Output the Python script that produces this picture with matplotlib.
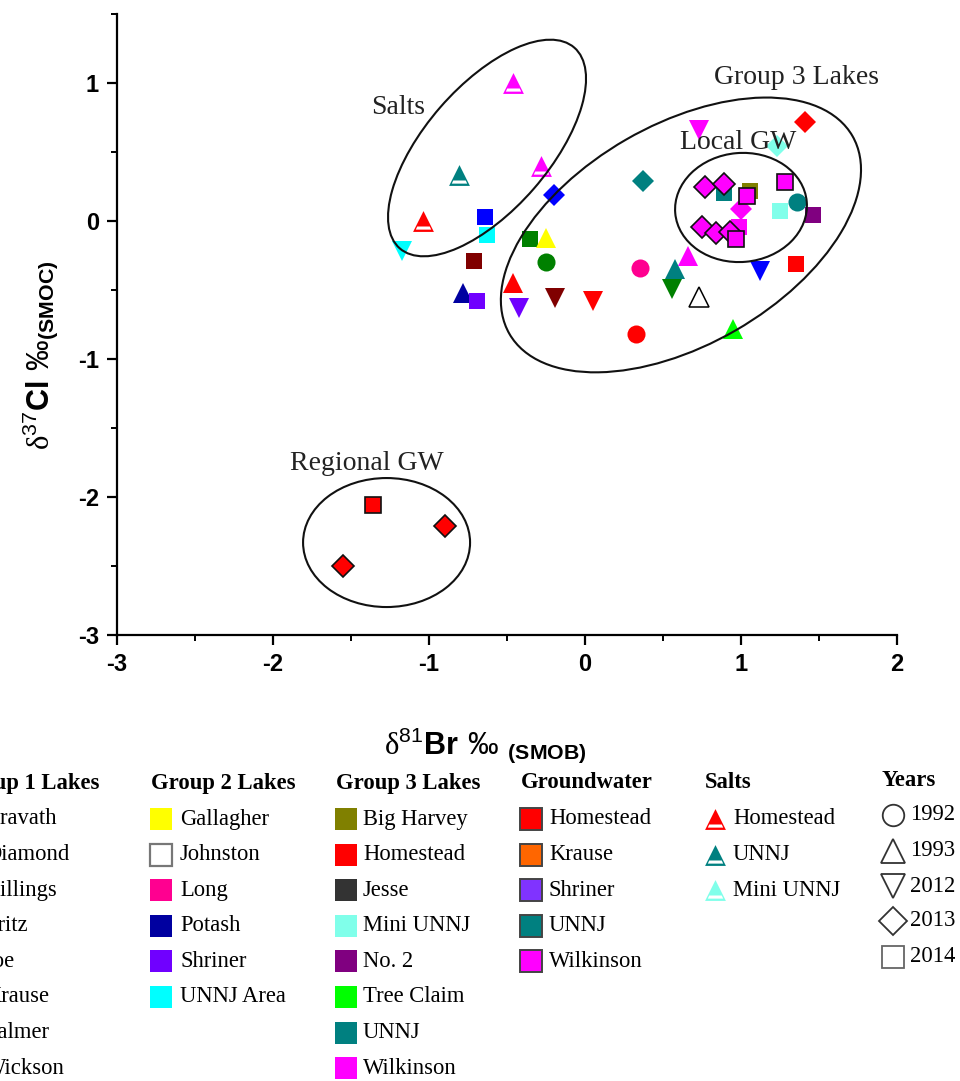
import numpy as np
import matplotlib
matplotlib.use('Agg')
import matplotlib.pyplot as plt
from matplotlib.patches import Ellipse
from matplotlib.path import Path
from matplotlib.transforms import Affine2D
from matplotlib.ticker import MultipleLocator

plt.rcParams['mathtext.fontset'] = 'custom'
plt.rcParams['mathtext.rm'] = 'Liberation Sans'
plt.rcParams['mathtext.bf'] = 'Liberation Sans:bold'
plt.rcParams['mathtext.cal'] = 'Liberation Serif'
plt.rcParams['axes.unicode_minus'] = False

# lake samples
lake_site = ['Cravath', 'Cravath', 'Cravath', 'Diamond', 'Diamond',
             'Billings', 'Billings', 'Billings', 'UNNJ Area', 'UNNJ Area',
             'Gallagher', 'Potash', 'Shriner', 'Shriner', 'Long', 'Johnston',
             'Homestead', 'Homestead', 'Homestead', 'Homestead', 'Homestead',
             'UNNJ', 'UNNJ', 'UNNJ', 'UNNJ',
             'Wilkinson', 'Wilkinson', 'Wilkinson', 'Wilkinson',
             'Tree Claim', 'Mini UNNJ', 'Mini UNNJ', 'No. 2', 'Big Harvey']
lake_year = [2014, 2013, 2012, 2014, 2012,
             2014, 1992, 2012, 2012, 2014,
             1993, 1993, 2014, 2012, 1992, 1993,
             1993, 2012, 1992, 2013, 2014,
             2013, 1993, 2014, 1992,
             2012, 1993, 2013, 2014,
             1993, 2013, 2014, 2014, 2014]
lake_x = [-0.64, -0.20, 1.12, -0.71, -0.19,
          -0.35, -0.25, 0.56, -1.17, -0.63,
          -0.25, -0.78, -0.69, -0.42, 0.35, 0.73,
          -0.46, 0.05, 0.33, 1.41, 1.35,
          0.37, 0.58, 0.89, 1.36,
          0.73, 0.66, 1.00, 0.99,
          0.95, 1.23, 1.25, 1.46, 1.06]
lake_y = [0.03, 0.19, -0.36, -0.29, -0.56,
          -0.13, -0.30, -0.49, -0.22, -0.10,
          -0.12, -0.52, -0.58, -0.63, -0.34, -0.55,
          -0.45, -0.58, -0.82, 0.72, -0.31,
          0.29, -0.35, 0.20, 0.14,
          0.66, -0.25, 0.085, -0.04,
          -0.78, 0.54, 0.075, 0.04, 0.22]

# groundwater samples
gw_site = ['Wilkinson'] * 8 + ['Homestead'] * 3
gw_year = [2013, 2013, 2013, 2013, 2013, 2014, 2014, 2014, 2014, 2013, 2013]
gw_x = [0.77, 0.89, 0.75, 0.84, 0.93, 1.04, 1.28, 0.97, -1.36, -0.90, -1.55]
gw_y = [0.25, 0.27, -0.04, -0.09, -0.08, 0.18, 0.285, -0.13, -2.06, -2.21, -2.50]

# salt samples (all 1993)
salt_site = ['Wilkinson', 'Wilkinson', 'UNNJ', 'Homestead']
salt_x = [-0.46, -0.28, -0.81, -1.04]
salt_y = [1.00, 0.40, 0.33, 0.00]

# legend groups
group1_names = ['Cravath', 'Diamond', 'Billings', 'Fritz', 'Joe', 'Krause', 'Palmer', 'Wickson']
group2_names = ['Gallagher', 'Johnston', 'Long', 'Potash', 'Shriner', 'UNNJ Area']
group3_names = ['Big Harvey', 'Homestead', 'Jesse', 'Mini UNNJ', 'No. 2', 'Tree Claim', 'UNNJ', 'Wilkinson']
gw_names = ['Homestead', 'Krause', 'Shriner', 'UNNJ', 'Wilkinson']
salt_names = ['Homestead', 'UNNJ', 'Mini UNNJ']
years = [1992, 1993, 2012, 2013, 2014]

lake_colors = {'Cravath': '#0000FF', 'Diamond': '#800000', 'Billings': '#008000',
               'Fritz': '#FF8000', 'Joe': '#808080', 'Krause': '#FF6600',
               'Palmer': '#00C0C0', 'Wickson': '#C000C0',
               'Gallagher': '#FFFF00', 'Johnston': '#FFFFFF', 'Long': '#FF0090',
               'Potash': '#0000A0', 'Shriner': '#7000FF', 'UNNJ Area': '#00FFFF',
               'Big Harvey': '#808000', 'Homestead': '#FF0000', 'Jesse': '#333333',
               'Mini UNNJ': '#80FFEA', 'No. 2': '#800080', 'Tree Claim': '#00FF00',
               'UNNJ': '#008080', 'Wilkinson': '#FF00FF'}
gw_colors = {'Homestead': '#FF0000', 'Krause': '#FF6600', 'Shriner': '#8033FF',
             'UNNJ': '#008080', 'Wilkinson': '#FF00FF'}
salt_colors = {'Homestead': '#FF0000', 'UNNJ': '#008080', 'Mini UNNJ': '#80FFEA',
               'Wilkinson': '#FF00FF'}

year_marker = {1992: 'o', 1993: '^', 2012: 'v', 2013: 'D', 2014: 's'}
year_ms = {1992: 13, 1993: 14.5, 2012: 14.5, 2013: 11.5, 2014: 12}

# triangle with a white band near the base (salts)
salt_marker = Path([(0, 1), (-1, -1), (1, -1), (0, 1),
                    (-0.6, -0.48), (0.6, -0.48), (0.74, -0.78), (-0.74, -0.78), (-0.6, -0.48)],
                   [Path.MOVETO, Path.LINETO, Path.LINETO, Path.CLOSEPOLY,
                    Path.MOVETO, Path.LINETO, Path.LINETO, Path.LINETO, Path.CLOSEPOLY])

fig = plt.figure(figsize=(9.6, 10.81), dpi=100)
ax = fig.add_axes([117 / 960, 446 / 1081, 780 / 960, 621 / 1081])

for x, y, s, yr in zip(lake_x, lake_y, lake_site, lake_year):
    ec = '#000000' if s == 'Johnston' else 'none'
    ax.plot(x, y, marker=year_marker[yr], ms=year_ms[yr], color=lake_colors[s],
            mec=ec, mew=1.1, ls='none', zorder=2)

for x, y, s, yr in zip(gw_x, gw_y, gw_site, gw_year):
    ax.plot(x, y, marker=year_marker[yr], ms=year_ms[yr], color=gw_colors[s],
            mec='#111111', mew=1.2, ls='none', zorder=2.2)

for x, y, s in zip(salt_x, salt_y, salt_site):
    ax.plot(x, y, marker=salt_marker, ms=15, color=salt_colors[s], mec='none',
            ls='none', zorder=2.4)

ax.set_xlim(-3, 2)
ax.set_ylim(-3, 1.5)
ax.xaxis.set_major_locator(MultipleLocator(1))
ax.xaxis.set_minor_locator(MultipleLocator(0.5))
ax.yaxis.set_major_locator(MultipleLocator(1))
ax.yaxis.set_minor_locator(MultipleLocator(0.5))
ax.set_yticks([-3, -2, -1, 0, 1])
for side in ['top', 'right']:
    ax.spines[side].set_visible(False)
for side in ['left', 'bottom']:
    ax.spines[side].set_linewidth(1.6)
ax.tick_params(which='major', direction='out', length=7, width=1.6, pad=6)
ax.tick_params(which='minor', direction='out', length=4.5, width=1.4)
for lab in ax.get_xticklabels() + ax.get_yticklabels():
    lab.set_fontfamily('Liberation Sans')
    lab.set_fontweight('bold')
    lab.set_fontsize(17)

# ellipses drawn in an isotropic frame (pixel-like scaling)
k = (621 / 4.5) / (780 / 5)
iso = Affine2D().scale(1, 1 / k) + ax.transData
px = 780 / 5
ellipses = [(-0.628, 0.529, 266, 124, 49),
            (0.615, -0.101, 396, 220, 30),
            (1.00, 0.098, 132, 109, 5),
            (-1.272, -2.33, 167, 129, 0)]
for cx, cy, w, h, ang in ellipses:
    ax.add_patch(Ellipse((cx, cy * k), w / px, h / px, angle=ang, transform=iso,
                         fill=False, ec='#111111', lw=1.5, zorder=3))

serif = 'Liberation Serif'
ax.text(-1.199, 0.826, 'Salts', fontsize=20, family=serif, ha='center', va='center', color='#222222')
ax.text(1.353, 1.043, 'Group 3 Lakes', fontsize=20, family=serif, ha='center', va='center', color='#222222')
ax.text(0.981, 0.572, 'Local GW', fontsize=20, family=serif, ha='center', va='center', color='#222222')
ax.text(-1.397, -1.754, 'Regional GW', fontsize=20, family=serif, ha='center', va='center', color='#222222')

fig.text(485 / 960, 1 - 745 / 1081,
         r'$\mathcal{δ}^{\mathrm{81}}\mathbf{Br}\ \mathrm{‰}\ _{\mathbf{(SMOB)}}$',
         fontsize=22, ha='center', va='center')
fig.text(40 / 960, 1 - 355 / 1081,
         r'$\mathcal{δ}^{\mathrm{37}}\mathbf{Cl}\ \mathrm{‰}_{\mathbf{(SMOC)}}$',
         fontsize=22, ha='center', va='center', rotation=90)

# legend panel in pixel coordinates
lax = fig.add_axes([0, 0, 1, 1], zorder=-1)
lax.set_xlim(0, 960)
lax.set_ylim(1081, 0)
lax.axis('off')

rows = [819 + 35.6 * i for i in range(8)]
title_y = 783
lfs = 16.3


def column(title, names, colors, x_title, x_mark, x_text, style):
    lax.text(x_title, title_y, title, fontsize=lfs, family=serif, fontweight='bold',
             ha='left', va='center', clip_on=False)
    for name, yy in zip(names, rows):
        c = colors[name]
        if style == 'lake':
            ec = '#777777' if name == 'Johnston' else 'none'
            lax.plot(x_mark, yy, marker='s', ms=15.5, color=c, mec=ec, mew=1.6,
                     ls='none', clip_on=False)
        elif style == 'gw':
            lax.plot(x_mark, yy, marker='s', ms=15.5, color=c, mec='#444444', mew=1.4,
                     ls='none', clip_on=False)
        else:
            lax.plot(x_mark, yy, marker=salt_marker, ms=15, color=c, mec='none',
                     ls='none', clip_on=False)
        lax.text(x_text, yy, name, fontsize=lfs, family=serif, ha='left', va='center',
                 clip_on=False)


column('Group 1 Lakes', group1_names, lake_colors, -45, -30, -15, 'lake')
column('Group 2 Lakes', group2_names, lake_colors, 151, 161, 180, 'lake')
column('Group 3 Lakes', group3_names, lake_colors, 336, 346, 363, 'lake')
column('Groundwater', gw_names, gw_colors, 521, 531, 549, 'gw')
column('Salts', salt_names, salt_colors, 705, 715, 733, 'salt')

lax.text(882, 780, 'Years', fontsize=lfs, family=serif, fontweight='bold',
         ha='left', va='center')
year_rows = [815, 851, 886, 921, 957]
year_leg_ms = {1992: 15.5, 1993: 17, 2012: 17, 2013: 14, 2014: 15.5}
for yr, yy in zip(years, year_rows):
    ec = '#666666' if yr == 2014 else '#333333'
    lax.plot(893, yy, marker=year_marker[yr], ms=year_leg_ms[yr], mfc='white',
             mec=ec, mew=1.3, ls='none', clip_on=False)
    lax.text(910, yy, str(yr), fontsize=lfs, family=serif, ha='left', va='center')

fig.savefig('out.png', dpi=100)
